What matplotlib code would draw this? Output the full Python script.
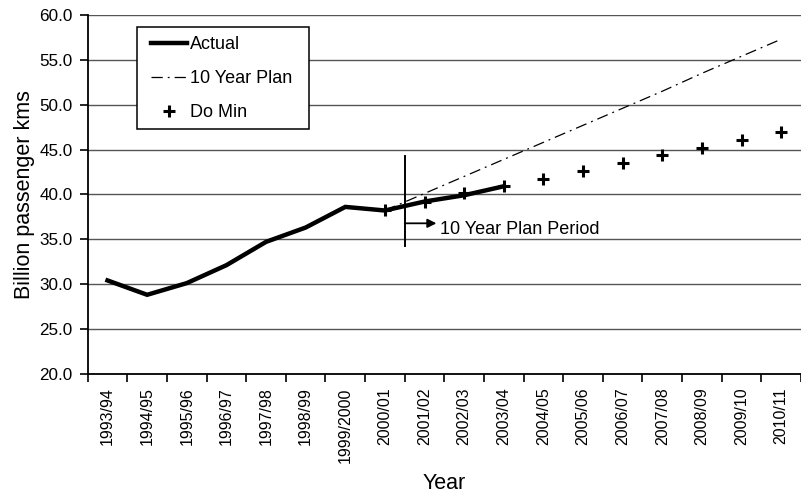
import numpy as np
import matplotlib
matplotlib.use("Agg")
import matplotlib.pyplot as plt
from matplotlib.patches import Rectangle

plt.rcParams['font.family'] = ['Liberation Sans', 'DejaVu Sans']

# data
years = ['1993/94', '1994/95', '1995/96', '1996/97', '1997/98', '1998/99',
         '1999/2000', '2000/01', '2001/02', '2002/03', '2003/04', '2004/05',
         '2005/06', '2006/07', '2007/08', '2008/09', '2009/10', '2010/11']
actual = [30.4, 28.8, 30.1, 32.1, 34.7, 36.3, 38.6, 38.2, 39.2, 39.9, 40.9]
plan = [38.2, 40.1, 42.0, 43.9, 45.8, 47.7, 49.6, 51.5, 53.5, 55.4, 57.3]
do_min = [38.2, 39.2, 40.1, 40.9, 41.7, 42.6, 43.5, 44.4, 45.2, 46.1, 47.0]
plan_start = years.index('2000/01')

W, H = 801, 493
fig = plt.figure(figsize=(W / 100, H / 100), dpi=100)
ax = fig.add_axes([87.7 / W, 1 - 373.7 / H, 1 - 87.7 / W, (373.7 - 15) / H])

x = np.arange(len(years))
ax.plot(x[:len(actual)], actual, color='black', lw=3.2, solid_joinstyle='miter',
        label='Actual', zorder=4)
ax.plot(x[plan_start:plan_start + len(plan)], plan, color='black', lw=0.9,
        linestyle=(0, (9, 4, 1.5, 4)), label='10 Year Plan', zorder=3)
ax.plot(x[plan_start:plan_start + len(do_min)], do_min, linestyle='none',
        marker='+', ms=9, mew=2.2, color='black', label='Do Min', zorder=5)

# plan period marker
ax.plot([7.5, 7.5], [34.2, 44.25], color='black', lw=1.4, zorder=4)
ax.annotate('', xy=(8.3, 36.77), xytext=(7.5, 36.77),
            arrowprops=dict(arrowstyle='-|>', color='black', lw=1.3,
                            mutation_scale=13, shrinkA=0, shrinkB=0))
ax.text(8.4, 36.13, '10 Year Plan Period', fontsize=13, va='center', ha='left')

ax.set_ylim(20, 60)
ax.set_xlim(-0.5, (W - 87.7) / 40.14 - 0.5)
ax.set_yticks(np.arange(20, 60.1, 5))
ax.set_yticklabels([f'{v:.1f}' for v in np.arange(20, 60.1, 5)], fontsize=12.3)
ax.set_xticks(x)
ax.set_xticklabels(years, rotation=90, fontsize=11.5)
ax.set_xticks(np.arange(-0.5, len(years), 1), minor=True)
ax.tick_params(axis='x', which='major', length=0, pad=10)
ax.tick_params(axis='x', which='minor', length=6, width=1.2, direction='out')
ax.tick_params(axis='y', length=6, width=1.2, direction='out', pad=5)

ax.grid(axis='y', color='#555555', lw=1.0)
ax.set_axisbelow(True)
for s in ['top', 'right']:
    ax.spines[s].set_visible(False)
for s in ['left', 'bottom']:
    ax.spines[s].set_linewidth(1.3)
    ax.spines[s].set_zorder(6)

ax.set_ylabel('Billion passenger kms', fontsize=15.5, labelpad=3)
ax.set_xlabel('Year', fontsize=15.5, labelpad=7)

# legend box drawn separately so its padding can match
box = Rectangle((137.3 / W, 1 - 129 / H), (309 - 137.3) / W, (129 - 27.3) / H,
                transform=fig.transFigure, facecolor='white', edgecolor='black',
                lw=1.1, zorder=7, clip_on=False)
ax.add_patch(box)
leg = ax.legend(loc='upper left', bbox_to_anchor=(150.7 / W, 1 - 36 / H),
                bbox_transform=fig.transFigure, borderaxespad=0, borderpad=0,
                fontsize=13, handlelength=2.0, handletextpad=0.2,
                labelspacing=0.95, frameon=False)
leg.set_zorder(8)

fig.savefig('out.png', dpi=100)
